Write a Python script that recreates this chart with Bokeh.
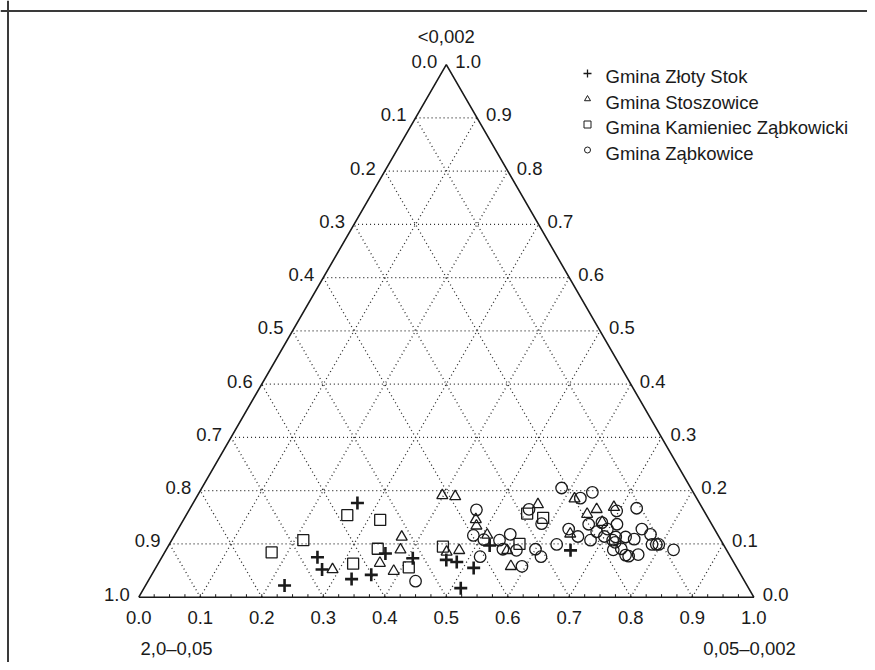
import math
from bokeh.plotting import figure
from bokeh.models import Span
from bokeh.core.properties import value
from bokeh.embed import file_html
from bokeh.resources import INLINE

# ---------------- data (fractions) ----------------
ticks = [0.0, 0.1, 0.2, 0.3, 0.4, 0.5, 0.6, 0.7, 0.8, 0.9, 1.0]
tick_labels = ["0.0", "0.1", "0.2", "0.3", "0.4", "0.5", "0.6", "0.7", "0.8", "0.9", "1.0"]
title_top = "<0,002"
title_left = "2,0\u20130,05"
title_right = "0,05\u20130,002"

series_names = ["Gmina Złoty Stok", "Gmina Stoszowice",
                "Gmina Kamieniec Ząbkowicki", "Gmina Ząbkowice"]

# silt (0,05-0,002) and clay (<0,002) fractions
zloty_silt = [0.267, 0.253, 0.272, 0.226, 0.329, 0.357, 0.360, 0.409, 0.465, 0.484, 0.517, 0.515, 0.522, 0.658]
zloty_clay = [0.177, 0.075, 0.052, 0.022, 0.034, 0.042, 0.082, 0.073, 0.070, 0.066, 0.055, 0.017, 0.097, 0.088]

stosz_silt = [0.398, 0.420, 0.371, 0.381, 0.360, 0.390, 0.289, 0.458, 0.477, 0.475, 0.482,
              0.508, 0.555, 0.576, 0.562, 0.616, 0.642, 0.651, 0.662, 0.688, 0.683]
stosz_clay = [0.191, 0.189, 0.113, 0.089, 0.064, 0.049, 0.052, 0.085, 0.088, 0.146, 0.134,
              0.117, 0.088, 0.058, 0.174, 0.185, 0.119, 0.156, 0.165, 0.169, 0.141]

kamien_silt = [0.174, 0.214, 0.262, 0.317, 0.320, 0.343, 0.411, 0.447, 0.569, 0.553, 0.583]
kamien_clay = [0.084, 0.107, 0.154, 0.063, 0.145, 0.091, 0.056, 0.095, 0.100, 0.157, 0.149]

zabk_silt = [0.435, 0.467, 0.486, 0.517, 0.507, 0.533, 0.545, 0.547, 0.570, 0.594, 0.552, 0.586,
             0.600, 0.616, 0.630, 0.585, 0.635, 0.657, 0.625, 0.639, 0.726, 0.663, 0.681, 0.683,
             0.683, 0.700, 0.698, 0.717, 0.719, 0.709, 0.696, 0.727, 0.739, 0.752, 0.772, 0.735,
             0.751, 0.754, 0.773, 0.785, 0.792, 0.796, 0.825, 0.758, 0.723]
zabk_clay = [0.030, 0.164, 0.116, 0.076, 0.108, 0.107, 0.118, 0.090, 0.088, 0.058, 0.165, 0.138,
             0.090, 0.076, 0.099, 0.205, 0.128, 0.114, 0.186, 0.197, 0.167, 0.137, 0.107, 0.123,
             0.140, 0.114, 0.128, 0.107, 0.113, 0.137, 0.162, 0.089, 0.091, 0.079, 0.080, 0.113,
             0.109, 0.128, 0.118, 0.099, 0.099, 0.099, 0.089, 0.077, 0.103]

# ---------------- geometry ----------------
S3 = math.sqrt(3) / 2.0
W, H = 867, 662
OFF = 0               # picture offset of the canvas as observed in the render
PX = 615.0            # pixels per unit side
LEFT_PX, BASE_PX = 138.3, 596.7   # picture position of the bottom-left vertex
x_start = -(LEFT_PX - OFF) / PX
x_end = x_start + W / PX
y_end = (BASE_PX - OFF) / PX
y_start = y_end - H / PX


def tx(silt, clay):
    return [s + c / 2.0 for s, c in zip(silt, clay)]


def ty(clay):
    return [c * S3 for c in clay]


def px_x(px):
    return x_start + (px - OFF) / PX


def px_y(py):
    return y_end - (py - OFF) / PX


INK = "#1a1a1a"
FONT = value("Liberation Sans")
FS = "18.5px"

p = figure(width=W, height=H, output_backend="svg", toolbar_location=None,
           x_range=(x_start, x_end), y_range=(y_start, y_end),
           min_border=0, min_border_left=0, min_border_right=0,
           min_border_top=0, min_border_bottom=0)
p.axis.visible = False
p.grid.visible = False
p.outline_line_color = None
p.background_fill_color = "white"
p.border_fill_color = "white"

# page frame (top and left edges visible in reference)
p.add_layout(Span(location=px_y(10.5), dimension="width", line_color="#3a3a3a", line_width=2))
p.add_layout(Span(location=px_x(7.5), dimension="height", line_color="#3a3a3a", line_width=2))

# ---------------- dotted grid ----------------
inner = ticks[1:-1]
gx0, gy0, gx1, gy1 = [], [], [], []
for t in inner:
    # constant clay (horizontal)
    gx0.append(t / 2); gy0.append(t * S3); gx1.append(1 - t / 2); gy1.append(t * S3)
    # constant silt (parallel to left edge)
    gx0.append(t); gy0.append(0.0); gx1.append(t + (1 - t) / 2); gy1.append((1 - t) * S3)
    # constant sand (parallel to right edge)
    gx0.append(t); gy0.append(0.0); gx1.append(t / 2); gy1.append(t * S3)
p.segment(gx0, gy0, gx1, gy1, line_color="#2a2a2a", line_width=1.3, line_dash="1 3")

# minor ticks along the base
mt = [i * 0.025 for i in range(1, 40)]
p.segment(mt, [0.0] * len(mt), mt, [3.0 / PX] * len(mt), line_color=INK, line_width=1)

# triangle edges
p.line([0, 1, 0.5, 0], [0, 0, S3, 0], line_color=INK, line_width=1.6)

# ---------------- tick labels ----------------
# bottom (silt)
p.text(ticks, [px_y(617)] * len(ticks), text=tick_labels, text_align="center",
       text_baseline="middle", text_font=FONT, text_font_size=FS, text_color=INK)
# left edge (sand): value v at clay = 1 - v
p.text([(1 - v) / 2 for v in ticks], [(1 - v) * S3 for v in ticks], text=tick_labels,
       text_align="right", text_baseline="middle", x_offset=-9, y_offset=-3,
       text_font=FONT, text_font_size=FS, text_color=INK)
# right edge (clay)
p.text([1 - v / 2 for v in ticks], [v * S3 for v in ticks], text=tick_labels,
       text_align="left", text_baseline="middle", x_offset=9, y_offset=-3,
       text_font=FONT, text_font_size=FS, text_color=INK)

# axis titles
p.text([0.5], [px_y(36)], text=[title_top], text_align="center", text_baseline="middle",
       text_font=FONT, text_font_size=FS, text_color=INK)
p.text([px_x(140)], [px_y(648)], text=[title_left], text_align="left", text_baseline="middle",
       text_font=FONT, text_font_size=FS, text_color=INK)
p.text([px_x(749)], [px_y(648)], text=[title_right], text_align="center", text_baseline="middle",
       text_font=FONT, text_font_size=FS, text_color=INK)

# ---------------- data points ----------------
p.scatter(tx(zloty_silt, zloty_clay), ty(zloty_clay), marker="cross", size=13,
          line_color=INK, line_width=2.6)
p.scatter(tx(stosz_silt, stosz_clay), ty(stosz_clay), marker="triangle", size=11,
          line_color=INK, line_width=1.3, fill_alpha=0)
p.scatter(tx(kamien_silt, kamien_clay), ty(kamien_clay), marker="square", size=11,
          line_color=INK, line_width=1.3, fill_alpha=0)
p.scatter(tx(zabk_silt, zabk_clay), ty(zabk_clay), marker="circle", size=11.5,
          line_color=INK, line_width=1.3, fill_alpha=0)

# ---------------- legend ----------------
leg_rows = [76, 101.5, 127, 152.5]
markers = ["cross", "triangle", "square", "circle"]
msizes = [8, 6, 7, 6]
for name, row, mk, ms in zip(series_names, leg_rows, markers, msizes):
    p.scatter([px_x(587)], [px_y(row - 3)], marker=mk, size=ms, line_color=INK,
              line_width=1.3 if mk == "cross" else 1.0, fill_alpha=0)
    p.text([px_x(605)], [px_y(row)], text=[name], text_align="left", text_baseline="middle",
           text_font=FONT, text_font_size=FS, text_color=INK)

open("out.html", "w").write(file_html(p, INLINE))
